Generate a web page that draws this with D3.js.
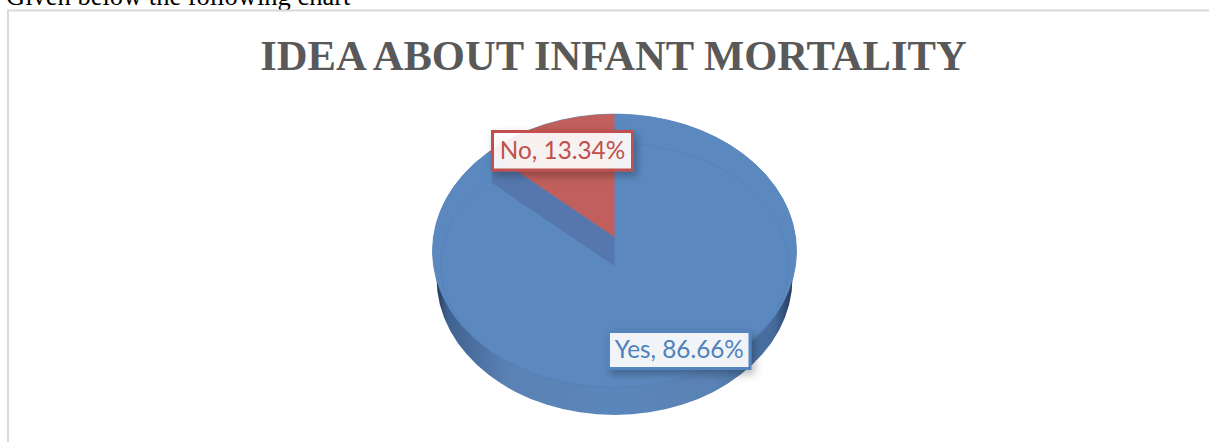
<!DOCTYPE html>
<html>
<head>
<meta charset="utf-8">
<script src="https://cdn.jsdelivr.net/npm/d3@7"></script>
<style>
  html, body { margin: 0; padding: 0; background: #fff; overflow: hidden; }
  svg { display: block; }
</style>
</head>
<body>
<svg id="chart" width="1209" height="442"></svg>
<script>
var categories = ["Yes", "No"];
var values = [86.66, 13.34];
var chartTitle = "IDEA ABOUT INFANT MORTALITY";
var pageLine = "Given below the following chart";

var svg = d3.select("#chart");
var defs = svg.append("defs");

// pie geometry (tilted disc)
var cx = 614.5, cy = 251, rx = 182, ry = 137;
var depth = 27;            // thickness of the disc
var apexY = 237, wallDepth = 29;

var colors = { Yes: "#5b89bf", No: "#c05f5b" };
var borders = { Yes: "#5585bf", No: "#c0504d" };
var textColors = { Yes: "#4f81bd", No: "#c0504d" };

// side gradient, darker at both ends
var grad = defs.append("linearGradient").attr("id", "side").attr("x1", 0).attr("x2", 1).attr("y1", 0).attr("y2", 0);
[[0, "#233a5c"], [0.03, "#3f618f"], [0.2, "#5a82b4"], [0.5, "#5b86bb"], [0.78, "#5a82b4"], [0.95, "#456a9b"], [1, "#223a5a"]].forEach(function(s) {
  grad.append("stop").attr("offset", s[0]).attr("stop-color", s[1]);
});

var shadow = defs.append("filter").attr("id", "shadow")
  .attr("x", "-15%").attr("y", "-30%").attr("width", "130%").attr("height", "170%");
shadow.append("feDropShadow").attr("dx", 3).attr("dy", 4).attr("stdDeviation", 4)
  .attr("flood-color", "#000").attr("flood-opacity", 0.3);

defs.append("clipPath").attr("id", "topClip").append("ellipse")
  .attr("cx", cx).attr("cy", cy).attr("rx", rx).attr("ry", ry);

// page text and frame
svg.append("text").attr("x", 6).attr("y", 5)
  .attr("font-family", "Liberation Serif").attr("font-size", 26.5).attr("fill", "#000")
  .text(pageLine);
svg.append("path").attr("d", "M8,442V10.5H1209").attr("fill", "none")
  .attr("stroke", "#d9d9d9").attr("stroke-width", 2);

svg.append("text").attr("x", 613.5).attr("y", 70).attr("text-anchor", "middle")
  .attr("font-family", "Liberation Serif").attr("font-weight", "bold").attr("font-size", 42.6)
  .attr("fill", "#595959").text(chartTitle);

// disc side
svg.append("ellipse").attr("cx", cx).attr("cy", cy + depth).attr("rx", rx - 4).attr("ry", ry)
  .attr("fill", "url(#side)");

// top surface
svg.append("ellipse").attr("cx", cx).attr("cy", cy).attr("rx", rx).attr("ry", ry)
  .attr("fill", colors.Yes).attr("stroke", "#4d77aa").attr("stroke-width", 0.6);

var pie = d3.pie().sort(null).startAngle(0).endAngle(2 * Math.PI)(values);
var unitArc = d3.arc().innerRadius(0).outerRadius(1);

var pieGroup = svg.append("g").attr("transform", "translate(" + cx + "," + cy + ") scale(" + rx + "," + ry + ")");
pieGroup.append("path").attr("d", unitArc(pie[0])).attr("fill", colors.Yes);

// faint inner rim
svg.append("ellipse").attr("cx", cx).attr("cy", 265).attr("rx", rx - 8).attr("ry", 122)
  .attr("fill", "none").attr("stroke", "#4f7cb2").attr("stroke-width", 0.7).attr("stroke-opacity", 0.7);

// cut-out wall of the wedge, swept down from the slice's left edge
var a = pie[1].startAngle;
var ex = cx + 0.905 * rx * Math.sin(a), ey = apexY - 0.905 * ry * Math.cos(a);
svg.append("path")
  .attr("d", d3.line()([[cx, apexY], [ex, ey], [ex, ey + wallDepth], [cx, apexY + wallDepth]]) + "Z")
  .attr("fill", "#5577ad");

// the small slice, clipped to the disc outline
var bigArc = d3.arc().innerRadius(0).outerRadius(1.4);
svg.append("g").attr("clip-path", "url(#topClip)")
  .append("path")
  .attr("transform", "translate(" + cx + "," + apexY + ") scale(" + rx + "," + ry + ")")
  .attr("d", bigArc(pie[1])).attr("fill", colors.No);

// data labels
var labelBoxes = { Yes: [608.5, 331.5, 141.5, 37], No: [492.5, 131.5, 140, 38.5] };
categories.forEach(function(c, i) {
  var b = labelBoxes[c];
  var g = svg.append("g");
  g.append("rect").attr("x", b[0]).attr("y", b[1]).attr("width", b[2]).attr("height", b[3])
    .attr("fill", "#fff").attr("fill-opacity", 0.9)
    .attr("stroke", borders[c]).attr("stroke-width", 3).attr("filter", "url(#shadow)");
  g.append("text").attr("x", b[0] + b[2] / 2).attr("y", b[1] + b[3] / 2 + 8)
    .attr("text-anchor", "middle").attr("font-family", "Lato").attr("font-size", 24.3)
    .attr("fill", textColors[c]).text(c + ", " + values[i].toFixed(2) + "%");
});
</script>
</body>
</html>
